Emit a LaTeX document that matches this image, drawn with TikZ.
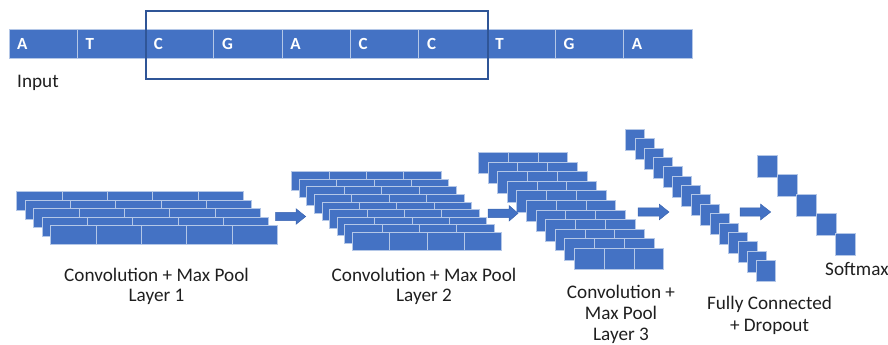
\documentclass[tikz,border=0pt]{standalone}
\usepackage{fontspec}
\setmainfont{Carlito}
\definecolor{cellblue}{HTML}{4472C4}
\definecolor{cellline}{HTML}{B4C7E7}
\definecolor{framebl}{HTML}{2F5597}
\definecolor{arrowline}{HTML}{3A64B0}

% one layer of feature maps: rows shifted diagonally, each row split into cells
% #1,#2 origin  #3 shift per row  #4 last row index  #5 row width  #6 row height  #7 cells per row
\newcommand\layerstack[7]{%
  \pgfmathsetmacro\cellw{#5/#7}%
  \foreach \r in {0,...,#4} {%
    \pgfmathsetmacro\xa{#1+\r*#3}%
    \pgfmathsetmacro\ya{#2+\r*#3}%
    \foreach \c in {1,...,#7} {%
      \filldraw[mapcell] (\xa+\c*\cellw-\cellw,\ya) rectangle ++(\cellw,#6);
    }%
  }%
}
% block arrow: #1 tail x, #2 head start x, #3 tip x, #4 centre y
\newcommand\blockarrow[4]{%
  \filldraw[fill=cellblue,draw=arrowline,line width=0.5]
    (#1,#4-4.2) -- (#2,#4-4.2) -- (#2,#4-7.8) -- (#3,#4) -- (#2,#4+7.8)
    -- (#2,#4+4.2) -- (#1,#4+4.2) -- cycle;
}

\begin{document}
\begin{tikzpicture}[x=1pt,y=-1pt,
  mapcell/.style={fill=cellblue,draw=cellline,line width=0.8},
  seqcell/.style={fill=cellblue,draw=cellline,line width=0.9},
  seqletter/.style={text=white,font=\bfseries\fontsize{17}{20}\selectfont,inner sep=0,anchor=base west},
  caption/.style={font=\fontsize{19.2}{22}\selectfont,inner sep=0,anchor=base,text=black!88}]
\useasboundingbox (0,0) rectangle (888,345);

% input sequence
\foreach \i/\l in {0/A,1/T,2/C,3/G,4/A,5/C,6/C,7/T,8/G,9/A} {
  \filldraw[seqcell] (9+\i*68.3,29) rectangle ++(68.3,29);
  \node[seqletter] (b\i) at (17+\i*68.3,49.8) {\l};
}
% sliding window
\draw[framebl,line width=2.7] (146,11) rectangle (488,79);
\node[caption,anchor=base west] (input) at (17,87.7) {Input};

% convolution layers
\layerstack{16.7}{191.7}{8.5}{4}{226.5}{19}{5}
\layerstack{291.7}{171.7}{7.58}{8}{149.5}{18.5}{4}
\layerstack{478.3}{152.3}{9.6}{10}{89.5}{21.5}{3}
% fully connected
\layerstack{625.7}{129.3}{9.36}{14}{19}{21}{1}
% softmax
\layerstack{757.3}{155}{19.6}{4}{20}{22}{1}

% arrows between layers
\blockarrow{275.7}{296}{305.7}{216.5}
\blockarrow{488}{509}{518}{213.3}
\blockarrow{638}{659.3}{669}{212}
\blockarrow{740}{760.7}{770.7}{212}

% captions
\node[caption] (c1a) at (156.5,281.7) {Convolution + Max Pool};
\node[caption] (c1b) at (156.5,301) {Layer 1};
\node[caption] (c2a) at (424,281.7) {Convolution + Max Pool};
\node[caption] (c2b) at (424,301) {Layer 2};
\node[caption] (c3a) at (621,298) {Convolution +};
\node[caption] (c3b) at (621,319.5) {Max Pool};
\node[caption] (c3c) at (621,340) {Layer 3};
\node[caption] (fca) at (769.5,309) {Fully Connected};
\node[caption] (fcb) at (769.5,331) {+ Dropout};
\node[caption,anchor=base west] (sm) at (825,275) {Softmax};
\end{tikzpicture}
\end{document}
